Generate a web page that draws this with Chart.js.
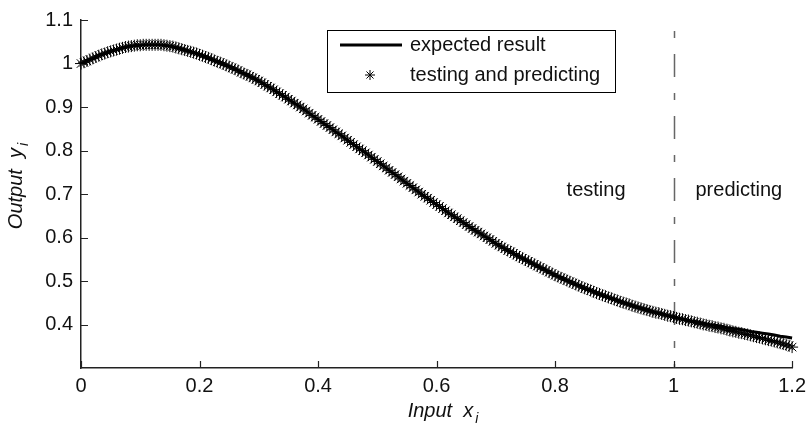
<!DOCTYPE html>
<html>
<head>
<meta charset="utf-8">
<script src="https://cdn.jsdelivr.net/npm/chart.js@4.4.0/dist/chart.umd.min.js"></script>
<style>
  body { margin: 0; background: #fff; }
  canvas { display: block; }
</style>
</head>
<body>
<canvas id="chart" width="812" height="431"></canvas>
<script>
// expected result, sampled every 0.01
const lineX = [
  0.00, 0.01, 0.02, 0.03, 0.04, 0.05, 0.06, 0.07, 0.08, 0.09,
  0.10, 0.11, 0.12, 0.13, 0.14, 0.15, 0.16, 0.17, 0.18, 0.19,
  0.20, 0.21, 0.22, 0.23, 0.24, 0.25, 0.26, 0.27, 0.28, 0.29,
  0.30, 0.31, 0.32, 0.33, 0.34, 0.35, 0.36, 0.37, 0.38, 0.39,
  0.40, 0.41, 0.42, 0.43, 0.44, 0.45, 0.46, 0.47, 0.48, 0.49,
  0.50, 0.51, 0.52, 0.53, 0.54, 0.55, 0.56, 0.57, 0.58, 0.59,
  0.60, 0.61, 0.62, 0.63, 0.64, 0.65, 0.66, 0.67, 0.68, 0.69,
  0.70, 0.71, 0.72, 0.73, 0.74, 0.75, 0.76, 0.77, 0.78, 0.79,
  0.80, 0.81, 0.82, 0.83, 0.84, 0.85, 0.86, 0.87, 0.88, 0.89,
  0.90, 0.91, 0.92, 0.93, 0.94, 0.95, 0.96, 0.97, 0.98, 0.99,
  1.00, 1.01, 1.02, 1.03, 1.04, 1.05, 1.06, 1.07, 1.08, 1.09,
  1.10, 1.11, 1.12, 1.13, 1.14, 1.15, 1.16, 1.17, 1.18, 1.19,
  1.20
];
const expected = [
  1.000, 1.006, 1.012, 1.018, 1.023, 1.028, 1.032, 1.036, 1.039, 1.041,
  1.042, 1.043, 1.043, 1.043, 1.042, 1.040, 1.037, 1.033, 1.029, 1.025,
  1.020, 1.015, 1.010, 1.004, 0.999, 0.993, 0.987, 0.980, 0.974, 0.967,
  0.960, 0.952, 0.944, 0.935, 0.927, 0.918, 0.909, 0.900, 0.891, 0.881,
  0.872, 0.862, 0.853, 0.843, 0.834, 0.824, 0.814, 0.804, 0.795, 0.785,
  0.775, 0.765, 0.755, 0.745, 0.735, 0.725, 0.715, 0.705, 0.695, 0.686,
  0.676, 0.667, 0.657, 0.648, 0.639, 0.630, 0.621, 0.613, 0.604, 0.596,
  0.587, 0.579, 0.571, 0.564, 0.556, 0.549, 0.542, 0.535, 0.528, 0.521,
  0.514, 0.508, 0.502, 0.496, 0.490, 0.484, 0.479, 0.473, 0.468, 0.463,
  0.458, 0.453, 0.449, 0.444, 0.440, 0.436, 0.432, 0.428, 0.425, 0.421,
  0.418, 0.415, 0.412, 0.409, 0.407, 0.404, 0.401, 0.399, 0.397, 0.394,
  0.392, 0.390, 0.388, 0.385, 0.383, 0.381, 0.379, 0.377, 0.374, 0.372,
  0.370
];

// testing (x <= 1) and predicting (x > 1), sampled every 0.005
const starX = [
  0.000, 0.005, 0.010, 0.015, 0.020, 0.025, 0.030, 0.035, 0.040, 0.045,
  0.050, 0.055, 0.060, 0.065, 0.070, 0.075, 0.080, 0.085, 0.090, 0.095,
  0.100, 0.105, 0.110, 0.115, 0.120, 0.125, 0.130, 0.135, 0.140, 0.145,
  0.150, 0.155, 0.160, 0.165, 0.170, 0.175, 0.180, 0.185, 0.190, 0.195,
  0.200, 0.205, 0.210, 0.215, 0.220, 0.225, 0.230, 0.235, 0.240, 0.245,
  0.250, 0.255, 0.260, 0.265, 0.270, 0.275, 0.280, 0.285, 0.290, 0.295,
  0.300, 0.305, 0.310, 0.315, 0.320, 0.325, 0.330, 0.335, 0.340, 0.345,
  0.350, 0.355, 0.360, 0.365, 0.370, 0.375, 0.380, 0.385, 0.390, 0.395,
  0.400, 0.405, 0.410, 0.415, 0.420, 0.425, 0.430, 0.435, 0.440, 0.445,
  0.450, 0.455, 0.460, 0.465, 0.470, 0.475, 0.480, 0.485, 0.490, 0.495,
  0.500, 0.505, 0.510, 0.515, 0.520, 0.525, 0.530, 0.535, 0.540, 0.545,
  0.550, 0.555, 0.560, 0.565, 0.570, 0.575, 0.580, 0.585, 0.590, 0.595,
  0.600, 0.605, 0.610, 0.615, 0.620, 0.625, 0.630, 0.635, 0.640, 0.645,
  0.650, 0.655, 0.660, 0.665, 0.670, 0.675, 0.680, 0.685, 0.690, 0.695,
  0.700, 0.705, 0.710, 0.715, 0.720, 0.725, 0.730, 0.735, 0.740, 0.745,
  0.750, 0.755, 0.760, 0.765, 0.770, 0.775, 0.780, 0.785, 0.790, 0.795,
  0.800, 0.805, 0.810, 0.815, 0.820, 0.825, 0.830, 0.835, 0.840, 0.845,
  0.850, 0.855, 0.860, 0.865, 0.870, 0.875, 0.880, 0.885, 0.890, 0.895,
  0.900, 0.905, 0.910, 0.915, 0.920, 0.925, 0.930, 0.935, 0.940, 0.945,
  0.950, 0.955, 0.960, 0.965, 0.970, 0.975, 0.980, 0.985, 0.990, 0.995,
  1.000, 1.005, 1.010, 1.015, 1.020, 1.025, 1.030, 1.035, 1.040, 1.045,
  1.050, 1.055, 1.060, 1.065, 1.070, 1.075, 1.080, 1.085, 1.090, 1.095,
  1.100, 1.105, 1.110, 1.115, 1.120, 1.125, 1.130, 1.135, 1.140, 1.145,
  1.150, 1.155, 1.160, 1.165, 1.170, 1.175, 1.180, 1.185, 1.190, 1.195,
  1.200
];
const predicted = [
  1.000, 1.003, 1.006, 1.009, 1.012, 1.015, 1.018, 1.021, 1.023, 1.026,
  1.028, 1.030, 1.032, 1.034, 1.036, 1.038, 1.039, 1.040, 1.041, 1.042,
  1.042, 1.043, 1.043, 1.043, 1.043, 1.043, 1.043, 1.043, 1.042, 1.041,
  1.040, 1.039, 1.037, 1.035, 1.033, 1.031, 1.029, 1.027, 1.025, 1.023,
  1.020, 1.018, 1.015, 1.013, 1.010, 1.007, 1.004, 1.002, 0.999, 0.996,
  0.993, 0.990, 0.987, 0.984, 0.980, 0.977, 0.974, 0.971, 0.967, 0.964,
  0.960, 0.956, 0.952, 0.948, 0.944, 0.940, 0.935, 0.931, 0.927, 0.923,
  0.918, 0.914, 0.909, 0.905, 0.900, 0.896, 0.891, 0.886, 0.881, 0.877,
  0.872, 0.867, 0.862, 0.858, 0.853, 0.848, 0.843, 0.839, 0.834, 0.829,
  0.824, 0.819, 0.814, 0.809, 0.804, 0.800, 0.795, 0.790, 0.785, 0.780,
  0.775, 0.770, 0.765, 0.760, 0.755, 0.750, 0.745, 0.740, 0.735, 0.730,
  0.725, 0.720, 0.715, 0.710, 0.705, 0.700, 0.695, 0.691, 0.686, 0.681,
  0.676, 0.672, 0.667, 0.662, 0.657, 0.653, 0.648, 0.644, 0.639, 0.635,
  0.630, 0.626, 0.621, 0.617, 0.613, 0.609, 0.604, 0.600, 0.596, 0.592,
  0.587, 0.583, 0.579, 0.575, 0.571, 0.568, 0.564, 0.560, 0.556, 0.553,
  0.549, 0.546, 0.542, 0.539, 0.535, 0.532, 0.528, 0.525, 0.521, 0.518,
  0.514, 0.511, 0.508, 0.505, 0.502, 0.499, 0.496, 0.493, 0.490, 0.487,
  0.484, 0.482, 0.479, 0.476, 0.473, 0.471, 0.468, 0.466, 0.463, 0.461,
  0.458, 0.456, 0.453, 0.451, 0.449, 0.447, 0.444, 0.442, 0.440, 0.438,
  0.436, 0.434, 0.432, 0.430, 0.428, 0.427, 0.425, 0.423, 0.421, 0.420,
  0.418, 0.416, 0.414, 0.413, 0.411, 0.410, 0.408, 0.406, 0.405, 0.403,
  0.401, 0.400, 0.398, 0.397, 0.395, 0.394, 0.392, 0.391, 0.389, 0.387,
  0.385, 0.384, 0.382, 0.381, 0.379, 0.378, 0.376, 0.374, 0.372, 0.371,
  0.369, 0.367, 0.365, 0.364, 0.362, 0.360, 0.358, 0.356, 0.354, 0.352,
  0.349
];

const xTicks = [0, 0.2, 0.4, 0.6, 0.8, 1, 1.2];
const yTicks = [0.4, 0.5, 0.6, 0.7, 0.8, 0.9, 1, 1.1];
const splitAt = 1;

const FONT = '"Liberation Sans", Arial, Helvetica, sans-serif';
const INK = '#111';

function fmt(v) {
  return String(Number(v.toFixed(1)));
}

// draws "main" followed by a subscript, centred on (0, 0) of the current transform
function subscriptLabel(ctx, main, sub) {
  ctx.font = 'italic 20px ' + FONT;
  const w1 = ctx.measureText(main).width;
  ctx.font = 'italic 14px ' + FONT;
  const w2 = ctx.measureText(sub).width;
  const start = -(w1 + 2 + w2) / 2;
  ctx.textAlign = 'left';
  ctx.textBaseline = 'middle';
  ctx.font = 'italic 20px ' + FONT;
  ctx.fillText(main, start, 0);
  ctx.font = 'italic 14px ' + FONT;
  ctx.fillText(sub, start + w1 + 2, 8);
}

const decorations = {
  id: 'decorations',
  beforeDatasetsDraw(chart) {
    const { ctx, chartArea: a, scales: { x } } = chart;
    const px = Math.round(x.getPixelForValue(splitAt)) + 0.5;

    // dash-dot divider between testing and predicting
    ctx.save();
    ctx.strokeStyle = '#666';
    ctx.lineWidth = 1.5;
    ctx.setLineDash([23, 16, 7, 16]);
    ctx.lineDashOffset = 23;
    ctx.beginPath();
    ctx.moveTo(px, a.top - 5);
    ctx.lineTo(px, a.bottom);
    ctx.stroke();
    ctx.restore();

    ctx.save();
    ctx.fillStyle = INK;
    ctx.font = '20px ' + FONT;
    ctx.textBaseline = 'middle';
    ctx.textAlign = 'right';
    ctx.fillText('testing', px - 49, 190);
    ctx.textAlign = 'left';
    ctx.fillText('predicting', px + 21, 190);
    ctx.restore();
  },
  afterDraw(chart) {
    const { ctx, chartArea: a, scales: { x, y } } = chart;
    ctx.save();

    // inward tick marks
    ctx.strokeStyle = '#222';
    ctx.lineWidth = 1.2;
    ctx.beginPath();
    xTicks.forEach(v => {
      const px = Math.round(x.getPixelForValue(v)) + 0.5;
      ctx.moveTo(px, a.bottom);
      ctx.lineTo(px, a.bottom - 7);
    });
    yTicks.forEach(v => {
      const py = Math.round(y.getPixelForValue(v)) + 0.5;
      ctx.moveTo(a.left, py);
      ctx.lineTo(a.left + 7, py);
    });
    ctx.stroke();

    // axis titles
    ctx.fillStyle = INK;
    ctx.save();
    ctx.translate(443, 411);
    subscriptLabel(ctx, 'Input  x', 'i');
    ctx.restore();
    ctx.save();
    ctx.translate(16, 186);
    ctx.rotate(-Math.PI / 2);
    subscriptLabel(ctx, 'Output  y', 'i');
    ctx.restore();

    // legend
    ctx.fillStyle = '#fff';
    ctx.fillRect(327.5, 30.5, 288, 62);
    ctx.strokeStyle = '#000';
    ctx.lineWidth = 1;
    ctx.strokeRect(327.5, 30.5, 288, 62);

    ctx.lineWidth = 3;
    ctx.beginPath();
    ctx.moveTo(340, 45);
    ctx.lineTo(402, 45);
    ctx.stroke();
    ctx.lineWidth = 1;
    Chart.helpers.drawPoint(ctx, { pointStyle: 'star', radius: 5, rotation: 0, borderWidth: 1 }, 370, 75);

    ctx.fillStyle = INK;
    ctx.font = '20px ' + FONT;
    ctx.textAlign = 'left';
    ctx.textBaseline = 'middle';
    ctx.fillText('expected result', 410, 45);
    ctx.fillText('testing and predicting', 410, 75);
    ctx.restore();
  }
};

const axisFont = { family: FONT, size: 20 };

new Chart(document.getElementById('chart'), {
  type: 'line',
  data: {
    datasets: [
      {
        label: 'testing and predicting',
        data: starX.map((v, i) => ({ x: v, y: predicted[i] })),
        showLine: false,
        pointStyle: 'star',
        pointRadius: 6,
        pointBorderWidth: 1,
        pointBorderColor: '#000',
        pointBackgroundColor: '#000',
        clip: false
      },
      {
        label: 'expected result',
        data: lineX.map((v, i) => ({ x: v, y: expected[i] })),
        borderColor: '#000',
        borderWidth: 3,
        pointRadius: 0,
        tension: 0,
        clip: false
      }
    ]
  },
  options: {
    responsive: false,
    animation: false,
    devicePixelRatio: 1,
    layout: { padding: { top: 15, right: 17, left: 0, bottom: 0 } },
    plugins: {
      legend: { display: false },
      tooltip: { enabled: false }
    },
    scales: {
      x: {
        type: 'linear',
        min: 0,
        max: 1.2,
        grid: { display: false, drawTicks: false },
        border: { display: true, color: '#222', width: 1.5 },
        ticks: { font: axisFont, color: INK, padding: 6, autoSkip: false, maxRotation: 0, callback: fmt },
        afterBuildTicks: s => { s.ticks = xTicks.map(v => ({ value: v })); },
        afterFit: s => { s.height = 63; }
      },
      y: {
        type: 'linear',
        min: 0.301,
        max: 1.1,
        grid: { display: false, drawTicks: false },
        border: { display: true, color: '#222', width: 1.5 },
        ticks: { font: axisFont, color: INK, padding: 8, autoSkip: false, callback: fmt },
        afterBuildTicks: s => { s.ticks = yTicks.map(v => ({ value: v })); },
        afterFit: s => { s.width = 81; }
      }
    }
  },
  plugins: [decorations]
});
</script>
</body>
</html>
